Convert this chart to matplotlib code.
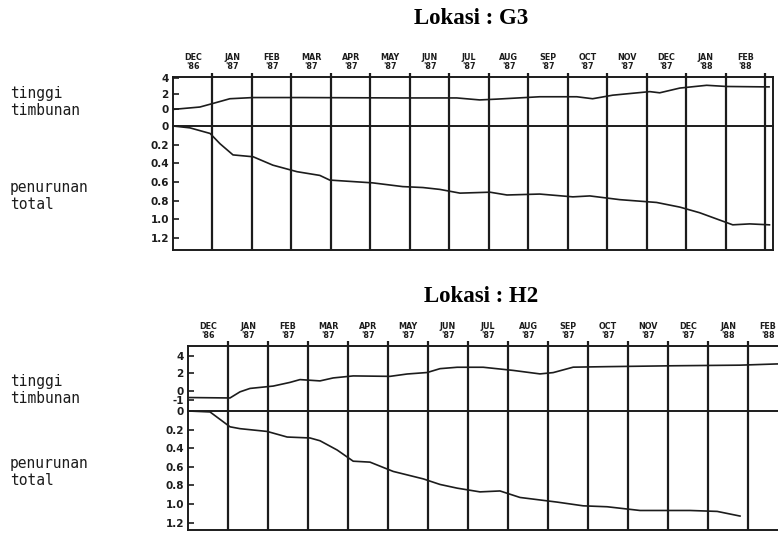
import matplotlib
matplotlib.use("Agg")
import matplotlib.pyplot as plt
from matplotlib.transforms import blended_transform_factory

# month labels along the top (one per month column)
month_labels = ["DEC\n'86", "JAN\n'87", "FEB\n'87", "MAR\n'87", "APR\n'87",
                "MAY\n'87", "JUN\n'87", "JUL\n'87", "AUG\n'87", "SEP\n'87",
                "OCT\n'87", "NOV\n'87", "DEC\n'87", "JAN\n'88", "FEB\n'88"]

# Lokasi G3 (time in months from 1 Dec '86)
g3_fill_t = [0, 0.68, 1.01, 1.44, 2.03, 3.22, 5.75, 7.19, 7.77, 8.2, 9.29,
             10.23, 10.63, 11.14, 12.08, 12.33, 12.84, 13.52, 14.03, 15.0, 15.1]
g3_fill_v = [0, 0.3, 0.75, 1.35, 1.5, 1.5, 1.45, 1.45, 1.2, 1.3, 1.6,
             1.6, 1.35, 1.8, 2.25, 2.1, 2.7, 3.05, 2.9, 2.85, 2.85]
g3_settle_t = [0, 0.43, 0.94, 1.19, 1.52, 2.03, 2.53, 3.14, 3.72, 3.97, 5.06,
               5.82, 6.33, 6.76, 7.27, 8.03, 8.46, 9.29, 10.13, 10.56, 11.32,
               12.25, 12.84, 13.34, 14.18, 14.61, 15.11]
g3_settle_v = [0, 0.02, 0.08, 0.19, 0.31, 0.33, 0.42, 0.49, 0.53, 0.58, 0.61,
               0.65, 0.66, 0.68, 0.72, 0.71, 0.74, 0.73, 0.76, 0.75, 0.79,
               0.82, 0.87, 0.93, 1.06, 1.05, 1.06]

# Lokasi H2
h2_fill_t = [0, 1.05, 1.3, 1.55, 2.13, 2.55, 2.8, 3.3, 3.63, 4.13, 5.05, 5.48,
             5.98, 6.3, 6.73, 7.38, 8.13, 8.8, 9.13, 9.63, 10.48, 12.13, 13.8, 14.73, 15.2]
h2_fill_v = [-0.75, -0.8, -0.1, 0.29, 0.56, 0.98, 1.3, 1.15, 1.49, 1.72, 1.67, 1.94,
             2.11, 2.55, 2.71, 2.71, 2.35, 1.95, 2.1, 2.72, 2.78, 2.88, 2.95, 3.09, 3.1]
h2_settle_t = [0, 0.55, 0.8, 1.05, 1.3, 1.98, 2.48, 3.05, 3.3, 3.73, 4.13, 4.55,
               5.13, 5.88, 6.3, 6.73, 7.3, 7.8, 8.3, 9.23, 9.88, 10.48, 11.3,
               12.55, 13.23, 13.8]
h2_settle_v = [0, 0.01, 0.09, 0.17, 0.19, 0.22, 0.28, 0.29, 0.32, 0.42, 0.54, 0.55,
               0.65, 0.73, 0.79, 0.83, 0.87, 0.86, 0.93, 0.98, 1.02, 1.03, 1.07,
               1.07, 1.08, 1.13]

ink = "#1c1c1c"
W, H = 778, 535
fig = plt.figure(figsize=(W / 100, H / 100), dpi=100)


def rect(x0, x1, y0, y1):
    # pixel box -> figure fraction
    return [x0 / W, 1 - y1 / H, (x1 - x0) / W, (y1 - y0) / H]


def style(ax, ticks, labels):
    for s in ax.spines.values():
        s.set_linewidth(1.4)
        s.set_color(ink)
    ax.set_xticks([])
    ax.set_yticks(ticks)
    ax.set_yticklabels(labels)
    ax.tick_params(axis="y", direction="in", length=4, width=1.2, pad=3,
                   labelsize=7.5, colors=ink)
    for t in ax.get_yticklabels():
        t.set_fontweight("bold")


def panel(px, top_box, bot_box, xmax, top_lim, bot_max, top_ticks, n_lines,
          fill_t, fill_v, settle_t, settle_v, title, title_xy, label_y, txt_y):
    x0, x1 = px
    ax1 = fig.add_axes(rect(x0, x1, *top_box))
    ax2 = fig.add_axes(rect(x0, x1, *bot_box))
    for ax in (ax1, ax2):
        ax.set_xlim(0, xmax)
        ax.set_facecolor("none")
    ax1.set_ylim(*top_lim)
    ax2.set_ylim(bot_max, 0)
    style(ax1, top_ticks, [str(v) for v in top_ticks])
    bot_ticks = [0, 0.2, 0.4, 0.6, 0.8, 1.0, 1.2]
    style(ax2, bot_ticks, ["0"] + ["%.1f" % v for v in bot_ticks[1:]])
    ax2.spines["top"].set_visible(False)

    bounds = list(range(1, n_lines + 1))
    span = top_lim[1] - top_lim[0]
    ax1.vlines(bounds, top_lim[0], top_lim[1] + span * 0.08, colors=ink,
               linewidth=1.6, clip_on=False)
    ax2.vlines(bounds, 0, bot_max, colors=ink, linewidth=1.6)

    ax1.plot(fill_t, fill_v, color=ink, linewidth=1.2)
    ax2.plot(settle_t, settle_v, color=ink, linewidth=1.2)

    tr = blended_transform_factory(ax1.transData, fig.transFigure)
    for i, lab in enumerate(month_labels):
        ax1.text(i + 0.5, 1 - label_y / H, lab, transform=tr, ha="center",
                 va="center", fontsize=5.8, fontweight="bold", color=ink,
                 linespacing=1.0, clip_on=False)

    fig.text(title_xy[0] / W, 1 - title_xy[1] / H, title, ha="center", va="center",
             fontsize=16.5, fontweight="bold", family="Liberation Serif", color="black")
    fig.text(10 / W, 1 - txt_y[0] / H, "tinggi\ntimbunan", ha="left", va="center",
             fontsize=10.5, family="DejaVu Sans Mono", color=ink, linespacing=1.1)
    fig.text(10 / W, 1 - txt_y[1] / H, "penurunan\ntotal", ha="left", va="center",
             fontsize=10.5, family="DejaVu Sans Mono", color=ink, linespacing=1.1)


panel((173, 773), (77, 126), (126, 250), 15.2, (-2.1, 4.1), 1.33, [4, 2, 0], 15,
      g3_fill_t, g3_fill_v, g3_settle_t, g3_settle_v,
      "Lokasi : G3", (471, 19), 62, (102, 196))

panel((188, 796), (346, 411), (411, 530), 15.2, (-2.29, 5.14), 1.28, [4, 2, 0, -1], 14,
      h2_fill_t, h2_fill_v, h2_settle_t, h2_settle_v,
      "Lokasi : H2", (481, 296), 331, (390, 472))

fig.savefig("out.png", dpi=100)
